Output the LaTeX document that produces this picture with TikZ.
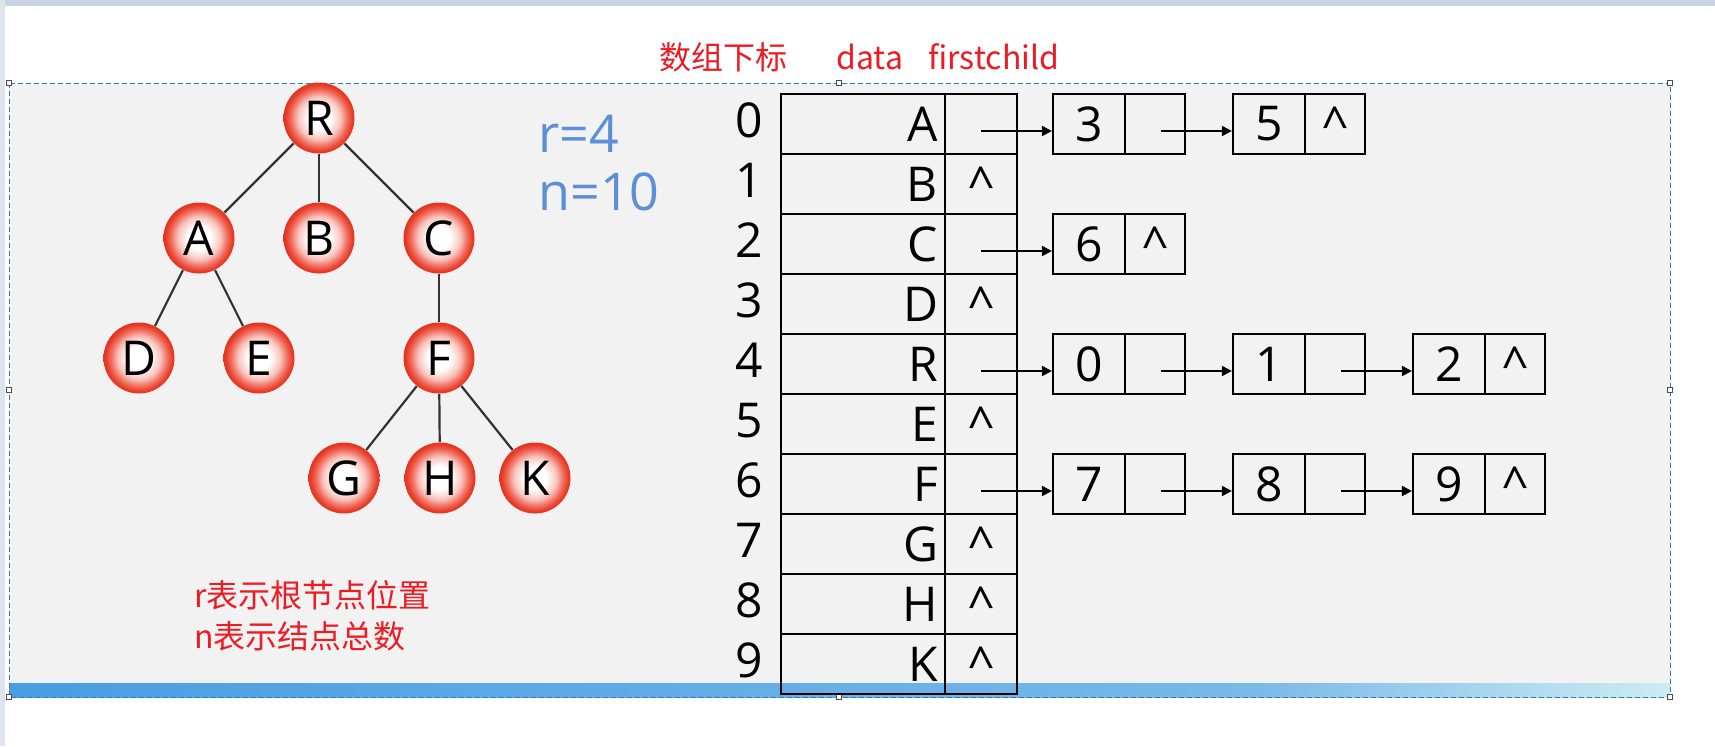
\documentclass[tikz,border=0pt]{standalone}
\usepackage{fontspec}
\setmainfont{Open Sans}
\newfontfamily\cjk{Noto Sans CJK SC}
\usetikzlibrary{arrows.meta}
\definecolor{ballred}{RGB}{234,58,38}
\definecolor{noteblue}{RGB}{91,143,214}
\definecolor{notered}{RGB}{236,28,36}
\definecolor{panel}{RGB}{242,242,242}
\definecolor{framebl}{RGB}{40,120,205}
\definecolor{barblue}{RGB}{72,158,226}
\definecolor{barmid}{RGB}{120,185,232}
\definecolor{barlight}{RGB}{205,236,242}
\definecolor{winedge}{RGB}{200,211,226}
\pgfdeclareradialshading{ball}{\pgfpoint{0bp}{0bp}}{color(0bp)=(white); color(8bp)=(white); color(15bp)=(ballred!30!white); color(20bp)=(ballred!75!white); color(23.5bp)=(ballred); color(25bp)=(ballred!94!black); color(50bp)=(ballred!94!black)}
\newcommand\bigtext{\fontsize{24}{28}\selectfont}
\newcommand\notetext{\fontsize{26}{30}\selectfont}
\newcommand\redtext{\cjk\fontsize{16}{21}\selectfont}
\tikzset{
  ball/.style={circle,inner sep=0pt,minimum size=35.5pt,shading=ball,font=\bigtext},
  treeline/.style={draw=black!80,line width=1.1pt},
  cell/.style={draw,line width=1.1pt,minimum height=30pt,inner sep=0pt,font=\bigtext},
  ptr/.style={line width=1pt,-{Triangle[length=5pt,width=5pt]}},
  handle/.style={draw=black!70,fill=white,line width=0.4pt,minimum size=2.5pt,inner sep=0pt},
  bluelabel/.style={anchor=base west,inner sep=0pt,font=\notetext,text=noteblue},
  redlabel/.style={anchor=base west,inner sep=0pt,font=\redtext,text=notered}
}

\begin{document}
\begin{tikzpicture}[x=0.5pt,y=-0.5pt]
    \useasboundingbox (0,0) rectangle (1715,746);
    % window and slide
    \fill[white] (0,0) rectangle (1715,746);
    \fill[winedge] (0,0) rectangle (1715,6);
    \fill[winedge!60!white] (0,0) rectangle (5,746);
    \fill[panel] (9,83) rectangle (1670,697);
    \shade[left color=barblue,right color=barmid] (9,683) rectangle (1250,697);
    \shade[left color=barmid,right color=barlight] (1250,683) rectangle (1670,697);
    \draw[framebl,line width=0.5pt,dash pattern=on 2.5pt off 1.5pt] (9,83) rectangle (1670,697);
    \foreach \x/\y [count=\k] in {9/83,839/83,1670/83,9/390,1670/390,9/697,839/697,1670/697}
      \node[handle] (hd\k) at (\x,\y) {};

    % tree
    \node[ball] (R) at (319,118) {R};
    \node[ball] (A) at (199,238) {A};
    \node[ball] (B) at (319,238) {B};
    \node[ball] (C) at (439,238) {C};
    \node[ball] (D) at (139,358) {D};
    \node[ball] (E) at (259,358) {E};
    \node[ball] (F) at (439,358) {F};
    \node[ball] (G) at (344,478) {G};
    \node[ball] (H) at (440,478) {H};
    \node[ball] (K) at (535,478) {K};
    \foreach \a/\b in {R/A,R/B,R/C,A/D,A/E,C/F,F/G,F/H,F/K}
      \draw[treeline] (\a) -- (\b);

    \node[bluelabel] (rval) at (538,152) {r=4};
    \node[bluelabel] (nval) at (538,210) {n=10};

    \node[redlabel] (hidx) at (659,69) {数组下标};
    \node[redlabel] (hdata) at (836,69) {data};
    \node[redlabel] (hfirst) at (928,69) {firstchild};
    \node[redlabel] (rnote) at (194,607) {r表示根节点位置};
    \node[redlabel] (nnote) at (194,648) {n表示结点总数};

    % array of heads
    \foreach \nm/\nl [count=\i from 0] in {A/0,B/1,C/0,D/1,R/0,E/1,F/0,G/1,H/1,K/1} {
      \node[cell,text width=75pt,inner xsep=3.5pt,align=right] (d\i) at (863,{124+60*\i}) {\nm};
      \node[cell,minimum width=36pt] (p\i) at (981,{124+60*\i}) {\vphantom{A}\ifnum\nl=1 \textasciicircum\fi};
      \node[anchor=base,inner sep=0pt,font=\bigtext] (i\i) at (749,{137+60*\i}) {\i};
    }

    % child lists
    \foreach \r/\s/\val/\last in {0/0/3/0,0/1/5/1,2/0/6/1,4/0/0/0,4/1/1/0,4/2/2/1,6/0/7/0,6/1/8/0,6/2/9/1} {
      \node[cell,minimum width=36pt] (v\r\s) at ({1089+180*\s},{124+60*\r}) {\val};
      \node[cell,minimum width=30pt] (q\r\s) at ({1155+180*\s},{124+60*\r}) {\vphantom{A}\ifnum\last=1 \textasciicircum\fi};
    }

    \foreach \r in {0,2,4,6} {
      \coordinate (s\r) at ([yshift=-3.5pt]p\r.center);
      \draw[ptr] (s\r) -- (s\r -| v\r0.west);
    }
    \foreach \r/\s/\t in {0/0/1,4/0/1,4/1/2,6/0/1,6/1/2} {
      \coordinate (t\r\s) at ([xshift=3pt,yshift=-3.5pt]q\r\s.center);
      \draw[ptr] (t\r\s) -- (t\r\s -| v\r\t.west);
    }
\end{tikzpicture}
\end{document}
